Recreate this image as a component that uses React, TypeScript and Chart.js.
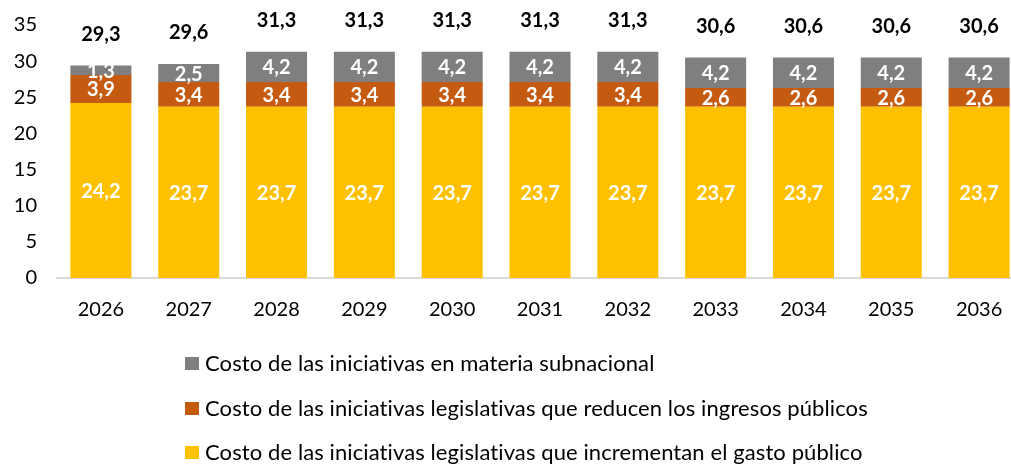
import React, { useEffect, useRef } from "react";
import { Chart, registerables } from "chart.js";

Chart.register(...registerables);

const categories = ["2026", "2027", "2028", "2029", "2030", "2031", "2032", "2033", "2034", "2035", "2036"];
const gastoValues = [24.2, 23.7, 23.7, 23.7, 23.7, 23.7, 23.7, 23.7, 23.7, 23.7, 23.7];
const ingresosValues = [3.9, 3.4, 3.4, 3.4, 3.4, 3.4, 3.4, 2.6, 2.6, 2.6, 2.6];
const subnacionalValues = [1.3, 2.5, 4.2, 4.2, 4.2, 4.2, 4.2, 4.2, 4.2, 4.2, 4.2];
const totalValues = [29.3, 29.6, 31.3, 31.3, 31.3, 31.3, 31.3, 30.6, 30.6, 30.6, 30.6];
const seriesLabels = [
  "Costo de las iniciativas legislativas que incrementan el gasto público",
  "Costo de las iniciativas legislativas que reducen los ingresos públicos",
  "Costo de las iniciativas en materia subnacional",
];
const seriesColors = ["#FFC000", "#C55A11", "#7F7F7F"];
const yTicks = [0, 5, 10, 15, 20, 25, 30, 35];

const FONT = "Lato, 'Open Sans', sans-serif";
const fmt = (v: number) => v.toFixed(1).replace(".", ",");

const labelsPlugin = {
  id: "segLabels",
  afterDatasetsDraw(chart: any) {
    const ctx = chart.ctx;
    ctx.save();
    ctx.textAlign = "center";
    ctx.textBaseline = "middle";
    ctx.font = `bold 20px ${FONT}`;
    chart.data.datasets.forEach((ds: any, di: number) => {
      const meta = chart.getDatasetMeta(di);
      meta.data.forEach((bar: any, i: number) => {
        const y = (bar.y + bar.base) / 2;
        ctx.fillStyle = "#FFFFFF";
        ctx.fillText(fmt(ds.data[i]), bar.x, y + 1);
      });
    });
    const topMeta = chart.getDatasetMeta(chart.data.datasets.length - 1);
    ctx.fillStyle = "#000000";
    topMeta.data.forEach((bar: any, i: number) => {
      ctx.fillText(fmt(totalValues[i]), bar.x, bar.y - 31);
    });
    ctx.restore();
  },
};

const legendPlugin = {
  id: "customLegend",
  afterDraw(chart: any) {
    const ctx = chart.ctx;
    ctx.save();
    ctx.font = `22px ${FONT}`;
    try { (ctx as any).letterSpacing = "0.1px"; } catch (e) {}
    ctx.textBaseline = "middle";
    ctx.textAlign = "left";
    const n = chart.data.datasets.length;
    const x0 = 185;
    const rowYs = [363, 408, 452];
    for (let k = 0; k < n; k++) {
      const ds = chart.data.datasets[n - 1 - k];
      const y = rowYs[k];
      ctx.fillStyle = ds.backgroundColor;
      ctx.fillRect(x0, y - 6, 14, 13);
      ctx.fillStyle = "#000000";
      ctx.fillText(ds.label, x0 + 20, y + 1);
    }
    ctx.restore();
  },
};

export default function App() {
  const ref = useRef<HTMLCanvasElement>(null);
  useEffect(() => {
    document.body.style.margin = "0";
    document.body.style.overflow = "hidden";
    const datasetsData = [gastoValues, ingresosValues, subnacionalValues];
    const chart = new Chart(ref.current!, {
      type: "bar",
      data: {
        labels: categories,
        datasets: datasetsData.map((d, i) => ({
          label: seriesLabels[i],
          data: d,
          backgroundColor: seriesColors[i],
          borderWidth: 0,
          categoryPercentage: 1,
          barPercentage: 0.695,
        })),
      },
      options: {
        animation: false,
        responsive: true,
        maintainAspectRatio: false,
        layout: { padding: { top: 25, left: 0, right: 0, bottom: 0 } },
        plugins: { legend: { display: false }, tooltip: { enabled: false } },
        scales: {
          x: {
            stacked: true,
            grid: { display: false, drawTicks: false },
            border: { display: true, color: "#D9D9D9", width: 2 },
            ticks: { color: "#000", font: { family: FONT, size: 20 }, padding: 20 },
            afterFit: (s: any) => { s.height = 464 - 278; s.paddingLeft = 0; s.paddingRight = 0; },
          },
          y: {
            stacked: true,
            min: 0,
            max: 35,
            afterBuildTicks: (s: any) => { s.ticks = yTicks.map((v) => ({ value: v })); },
            grid: { display: false, drawTicks: false },
            border: { display: false },
            ticks: { color: "#000", font: { family: FONT, size: 20 }, padding: 20 },
            afterFit: (s: any) => { s.width = 57; s.paddingTop = 0; s.paddingBottom = 0; },
          },
        },
      },
      plugins: [labelsPlugin, legendPlugin],
    });
    return () => chart.destroy();
  }, []);
  return (
    <div style={{ position: "fixed", left: 0, top: 0, width: 1023, height: 464 }}>
      <canvas ref={ref} />
    </div>
  );
}
